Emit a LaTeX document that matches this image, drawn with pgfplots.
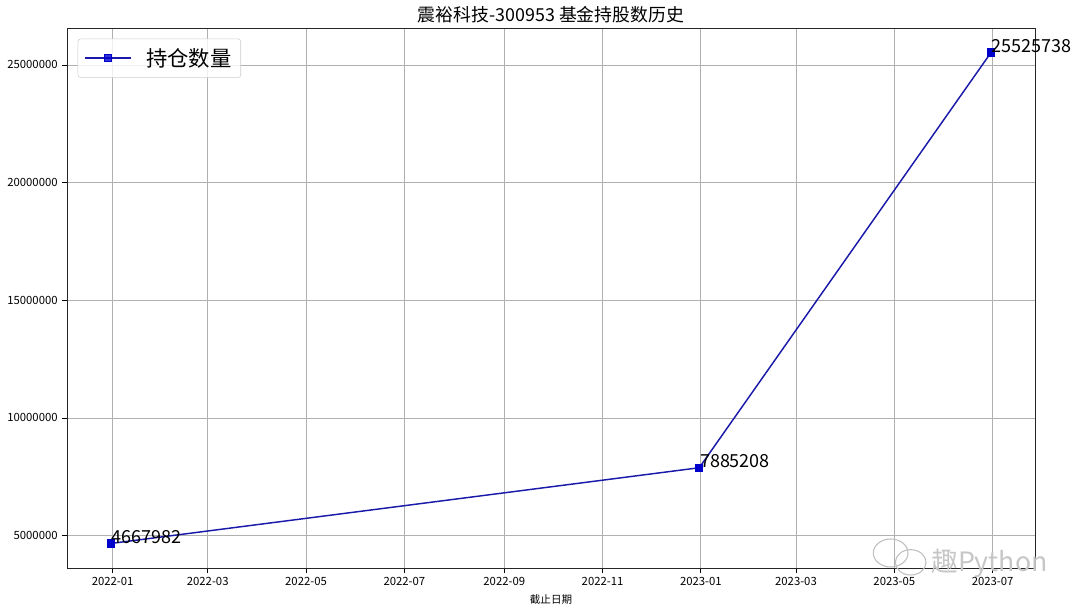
\documentclass[border=0pt]{standalone}
\usepackage{fontspec}
\setmainfont{Noto Sans CJK SC}
\usepackage{pgfplots}
\pgfplotsset{compat=1.18}
\definecolor{lineblue}{RGB}{25,25,170}
\definecolor{markblue}{RGB}{0,0,205}
\definecolor{gridgray}{RGB}{176,176,176}
\begin{document}
\begin{tikzpicture}
\useasboundingbox (0,0) rectangle (810pt,459.75pt);
\begin{axis}[
  at={(50.25pt,33.75pt)}, anchor=south west,
  scale only axis, width=726pt, height=405pt,
  xmin=-28.3, xmax=572.3,
  ymin=3625094, ymax=26568626,
  xtick={0,59,120,181,243,304,365,424,485,546},
  xticklabels={2022-01,2022-03,2022-05,2022-07,2022-09,2022-11,2023-01,2023-03,2023-05,2023-07},
  ytick={5000000,10000000,15000000,20000000,25000000},
  scaled y ticks=false,
  xtick pos=bottom, ytick pos=left,
  yticklabel style={/pgf/number format/.cd,fixed,1000 sep={},assume math mode=true},
  xticklabel style={/pgf/number format/assume math mode=true},
  ticklabel style={font=\fontsize{8.5pt}{10pt}\selectfont},
  tick align=outside, major tick length=3.5pt,
  tick style={black, line width=0.6pt},
  axis line style={line width=0.6pt, black!85},
  grid=major, grid style={gridgray, line width=0.6pt},
  title={震裕科技-300953 基金持股数历史},
  title style={font=\fontsize{13.4pt}{16pt}\selectfont, yshift=-6pt},
  xlabel={截止日期},
  xlabel style={font=\fontsize{7.9pt}{9pt}\selectfont, yshift=0pt},
  legend style={at={(0,1)}, anchor=north west, xshift=8pt, yshift=-8pt,
    draw=black!20, rounded corners=2pt, fill=white, fill opacity=0.8, text opacity=1,
    font=\fontsize{16pt}{18pt}\selectfont, inner xsep=5pt, inner ysep=5pt,
    /tikz/every odd column/.append style={column sep=9pt}},
  legend image code/.code={\draw[mark repeat=2,mark phase=2,#1] plot coordinates {(0pt,0pt)(17pt,0pt)(34pt,0pt)};},
]
\addplot[color=lineblue, line width=1.1pt, mark=square*, mark size=2.6pt,
  mark options={fill=markblue, draw=markblue},
  nodes near coords, point meta=explicit symbolic,
  every node near coord/.append style={anchor=base west, inner sep=0pt, text=black,
    font=\fontsize{13.5pt}{15pt}\selectfont}]
  coordinates {(-1,4667982) [4667982] (364,7885208) [7885208] (545,25525738) [25525738]};
\addlegendentry{持仓数量}
\end{axis}
% watermark
\begin{scope}[gray!50, line width=0.8pt]
  \draw (668pt,45pt) ellipse (13pt and 10.5pt);
  \draw (683pt,38pt) ellipse (11.5pt and 9.5pt);
\end{scope}
\node[anchor=west, text=gray!45, font=\fontsize{20pt}{22pt}\selectfont] at (695pt,37pt) {趣Python};
\end{tikzpicture}
\end{document}
